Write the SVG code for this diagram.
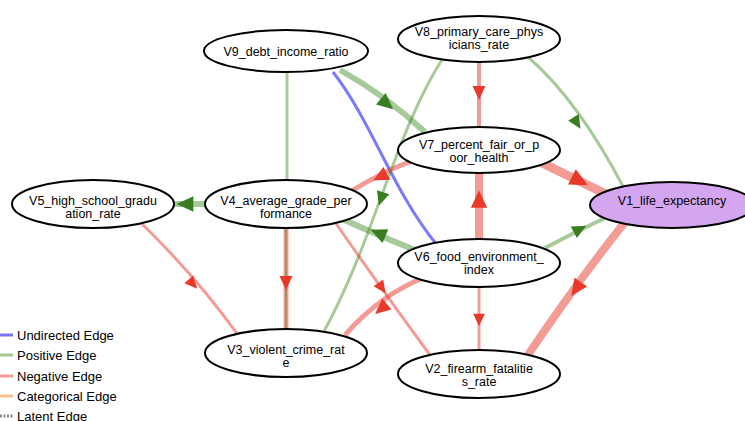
<svg xmlns="http://www.w3.org/2000/svg" width="745" height="421" viewBox="0 0 745 421">
<style>
.n{fill:#fff;stroke:#000;stroke-width:2}
.t{font-family:"Liberation Sans",Arial,Helvetica,sans-serif;font-size:12.5px;fill:#000;text-anchor:middle}
.lg{font-family:"Liberation Sans",Arial,Helvetica,sans-serif;font-size:13px;fill:#000}
.e{fill:none}
.pos{stroke:#3b8a1e;stroke-opacity:0.45}
.neg{stroke:#e8392b;stroke-opacity:0.5}
.und{stroke:#4d4dff;stroke-opacity:0.75}
.ag{fill:#3b7d23}
.ar{fill:#e8392b}
</style>
<defs>
<path id="ah" d="M7,0 L-7,-6.5 L-7,6.5 Z"/>
</defs>
<rect width="745" height="421" fill="#fff"/>
<g id="connectors">
<path class="e pos" stroke-width="6" d="M340,70 Q385,95 425,132"/>
<use href="#ah" class="ag" transform="translate(387,104) rotate(40) scale(1.15)"/>
<path class="e und" stroke-width="3" d="M333,72 C372,122 392,190 437,245"/>
<path class="e pos" stroke-width="3" d="M287,72 L287,183"/>
<path class="e pos" stroke-width="3" d="M445,55 C395,130 375,240 322,335"/>
<use href="#ah" class="ag" transform="translate(381,199) rotate(108)"/>
<path class="e neg" stroke-width="4" d="M479,60 L479,128"/>
<use href="#ah" class="ar" transform="translate(479,93) rotate(90)"/>
<path class="e pos" stroke-width="3" d="M528,57 Q578,100 625,190"/>
<use href="#ah" class="ag" transform="translate(577,123) rotate(58) scale(0.95)"/>
<path class="e neg" stroke-width="9" d="M540,162 L612,197"/>
<use href="#ah" class="ar" transform="translate(580,181) rotate(27) scale(1.3)"/>
<path class="e neg" stroke-width="5" d="M415,160 Q385,170 345,195"/>
<use href="#ah" class="ar" transform="translate(380,177) rotate(152) scale(1.1)"/>
<path class="e pos" stroke-width="6" d="M206,204 L174,204"/>
<use href="#ah" class="ag" transform="translate(185,204) rotate(180) scale(1.2)"/>
<path class="e neg" stroke-width="5" d="M286,228 L286,331"/>
<path class="e pos" stroke-width="2" d="M286,228 L286,331"/>
<use href="#ah" class="ar" transform="translate(286,283) rotate(90)"/>
<path class="e neg" stroke-width="3" d="M335,222 Q375,280 430,355"/>
<use href="#ah" class="ar" transform="translate(382,288) rotate(55) scale(0.9)"/>
<path class="e pos" stroke-width="6" d="M415,250 Q380,236 340,218"/>
<use href="#ah" class="ag" transform="translate(378,233) rotate(-157) scale(1.15)"/>
<path class="e neg" stroke-width="8" d="M479,241 L479,170"/>
<use href="#ah" class="ar" transform="translate(479,199) rotate(-90) scale(1.25)"/>
<path class="e pos" stroke-width="4" d="M545,248 Q575,232 605,218"/>
<use href="#ah" class="ag" transform="translate(580,229) rotate(-28)"/>
<path class="e neg" stroke-width="5" d="M425,277 Q380,295 345,335"/>
<use href="#ah" class="ar" transform="translate(381,309) rotate(140) scale(1.1)"/>
<path class="e neg" stroke-width="3" d="M479,287 L479,351"/>
<use href="#ah" class="ar" transform="translate(479,320) rotate(90) scale(0.9)"/>
<path class="e neg" stroke-width="8" d="M625,222 Q575,285 528,355"/>
<use href="#ah" class="ar" transform="translate(576,289) rotate(125) scale(1.2)"/>
<path class="e neg" stroke-width="3" d="M140,222 Q195,275 238,335"/>
<use href="#ah" class="ar" transform="translate(193,284) rotate(48) scale(0.9)"/>
</g>
<g id="V9"><ellipse class="n" cx="286" cy="51" rx="82" ry="21"/><text class="t" x="286" y="56">V9_debt_income_ratio</text></g>
<g id="V8"><ellipse class="n" cx="479" cy="39" rx="81" ry="23"/><text class="t" x="479" y="36">V8_primary_care_phys</text><text class="t" x="479" y="48.5">icians_rate</text></g>
<g id="V7"><ellipse class="n" cx="479" cy="150" rx="81" ry="23"/><text class="t" x="479" y="149">V7_percent_fair_or_p</text><text class="t" x="479" y="161.5">oor_health</text></g>
<g id="V5"><ellipse class="n" cx="93" cy="204" rx="81" ry="24"/><text class="t" x="93" y="205">V5_high_school_gradu</text><text class="t" x="93" y="217.5">ation_rate</text></g>
<g id="V4"><ellipse class="n" cx="286" cy="204" rx="81" ry="24"/><text class="t" x="286" y="205">V4_average_grade_per</text><text class="t" x="286" y="217.5">formance</text></g>
<g id="V1"><ellipse class="n" cx="672" cy="205" rx="82" ry="23" style="fill:#d3a6ef"/><text class="t" x="672" y="205">V1_life_expectancy</text></g>
<g id="V6"><ellipse class="n" cx="479" cy="263" rx="81" ry="24"/><text class="t" x="479" y="261">V6_food_environment_</text><text class="t" x="479" y="273.5">index</text></g>
<g id="V3"><ellipse class="n" cx="286" cy="353" rx="81" ry="24"/><text class="t" x="286" y="354">V3_violent_crime_rat</text><text class="t" x="286" y="366.5">e</text></g>
<g id="V2"><ellipse class="n" cx="479" cy="374" rx="81" ry="24"/><text class="t" x="479" y="373">V2_firearm_fatalitie</text><text class="t" x="479" y="385.5">s_rate</text></g>
<g id="legend">
<line x1="0" y1="335" x2="13" y2="335" stroke="#7777f7" stroke-width="3"/><text class="lg" x="17" y="340">Undirected Edge</text>
<line x1="0" y1="355" x2="13" y2="355" stroke="#a3c894" stroke-width="3"/><text class="lg" x="17" y="360">Positive Edge</text>
<line x1="0" y1="376" x2="13" y2="376" stroke="#f29c95" stroke-width="3"/><text class="lg" x="17" y="381">Negative Edge</text>
<line x1="0" y1="396" x2="13" y2="396" stroke="#f8c08e" stroke-width="3"/><text class="lg" x="17" y="401">Categorical Edge</text>
<line x1="0" y1="416" x2="13" y2="416" stroke="#888" stroke-width="3" stroke-dasharray="2,1.5"/><text class="lg" x="17" y="421">Latent Edge</text>
</g>
</svg>
